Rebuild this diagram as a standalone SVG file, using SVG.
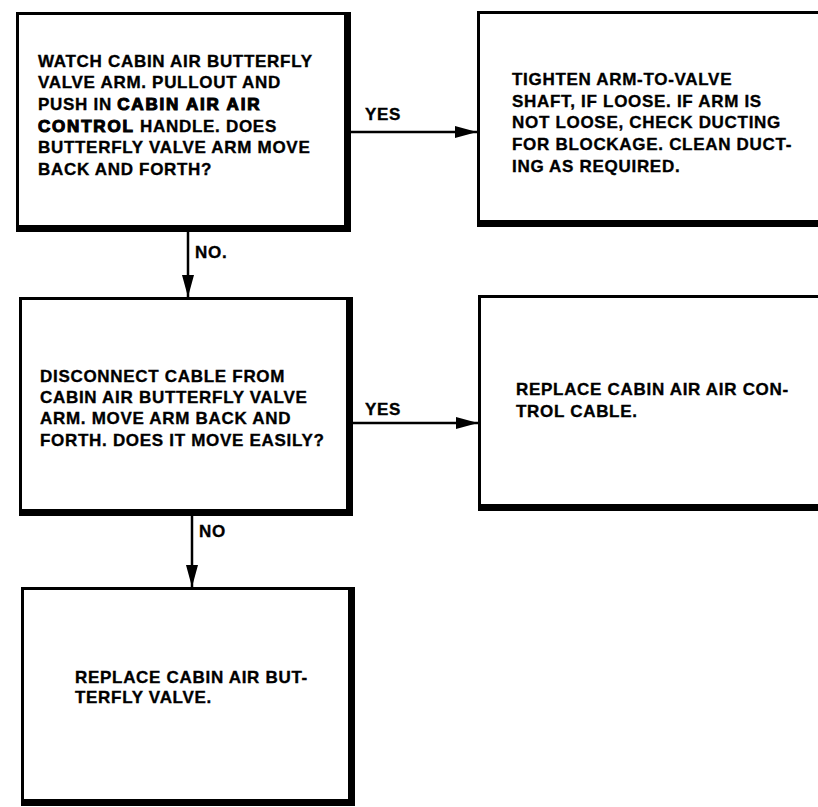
<svg xmlns="http://www.w3.org/2000/svg" width="818" height="807" viewBox="0 0 818 807">
<style>
.box{fill:#fff;stroke:#000;stroke-width:3}
.shadow{fill:none;stroke:#000;stroke-width:7;stroke-linejoin:miter}
.conn{stroke:#000;stroke-width:2.5;fill:none}
text{font-family:"Liberation Sans",Arial,sans-serif;font-weight:bold;font-size:17px;letter-spacing:0.7px;fill:#000;stroke:#000;stroke-width:0.35}
.heavy{stroke:#000;stroke-width:1.1;letter-spacing:1.8px}
</style>
<defs>
<marker id="arr" markerUnits="userSpaceOnUse" markerWidth="22" markerHeight="14" refX="22" refY="7" orient="auto">
<path d="M0,1 L22,7 L0,13 Z" fill="#000"/>
</marker>
</defs>
<rect width="818" height="807" fill="#fff"/>
<g id="connectors">
<line class="conn" x1="351" y1="132" x2="477" y2="132" marker-end="url(#arr)"/>
<line class="conn" x1="188" y1="232" x2="188" y2="297" marker-end="url(#arr)"/>
<line class="conn" x1="353" y1="423" x2="478" y2="423" marker-end="url(#arr)"/>
<line class="conn" x1="192" y1="516" x2="192" y2="587" marker-end="url(#arr)"/>
<text x="365" y="120">YES</text>
<text x="195" y="258">NO.</text>
<text x="365" y="415">YES</text>
<text x="199" y="537">NO</text>
</g>
<g id="q1">
<rect class="box" x="17.5" y="13.5" width="330" height="215"/>
<path class="shadow" d="M347.5,12 V228.5 H16"/>
<text x="38" y="67">WATCH CABIN AIR BUTTERFLY</text>
<text x="38" y="88">VALVE ARM. PULLOUT AND</text>
<text x="38" y="110">PUSH IN <tspan class="heavy">CABIN AIR AIR</tspan></text>
<text x="38" y="132"><tspan class="heavy">CONTROL</tspan> HANDLE. DOES</text>
<text x="38" y="153">BUTTERFLY VALVE ARM MOVE</text>
<text x="38" y="175">BACK AND FORTH?</text>
</g>
<g id="a1">
<rect class="box" x="478.5" y="12.5" width="348" height="211"/>
<path class="shadow" d="M826.5,11 V223.5 H477"/>
<text x="512" y="85">TIGHTEN ARM-TO-VALVE</text>
<text x="512" y="107">SHAFT, IF LOOSE. IF ARM IS</text>
<text x="512" y="128">NOT LOOSE, CHECK DUCTING</text>
<text x="512" y="150">FOR BLOCKAGE. CLEAN DUCT-</text>
<text x="512" y="172">ING AS REQUIRED.</text>
</g>
<g id="q2">
<rect class="box" x="20.5" y="298.5" width="329" height="214"/>
<path class="shadow" d="M349.5,297 V512.5 H19"/>
<text x="40" y="382">DISCONNECT CABLE FROM</text>
<text x="40" y="403">CABIN AIR BUTTERFLY VALVE</text>
<text x="40" y="424">ARM. MOVE ARM BACK AND</text>
<text x="40" y="446">FORTH. DOES IT MOVE EASILY?</text>
</g>
<g id="a2">
<rect class="box" x="479.5" y="296.5" width="347" height="211"/>
<path class="shadow" d="M826.5,295 V507.5 H478"/>
<text x="516" y="395">REPLACE CABIN AIR AIR CON-</text>
<text x="516" y="417">TROL CABLE.</text>
</g>
<g id="a3">
<rect class="box" x="22.5" y="588.5" width="329" height="214"/>
<path class="shadow" d="M351.5,587 V802.5 H21"/>
<text x="75" y="683">REPLACE CABIN AIR BUT-</text>
<text x="75" y="703">TERFLY VALVE.</text>
</g>
</svg>
